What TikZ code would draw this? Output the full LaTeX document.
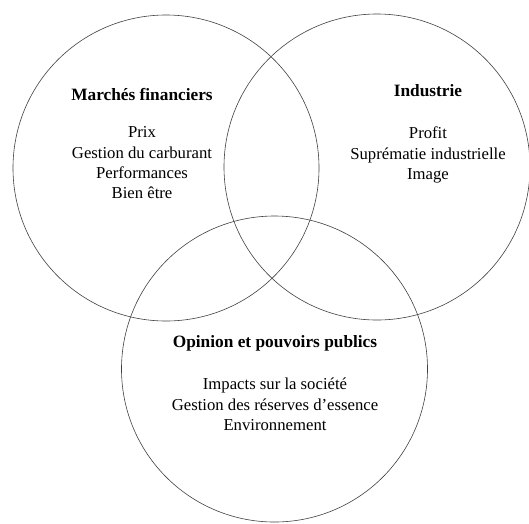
\documentclass[tikz,border=0pt]{standalone}
\usepackage{fontspec}
\setmainfont{Liberation Serif}
\tikzset{
  venn/.style={draw=black!75, line width=0.6pt, circle, minimum size=#1, inner sep=0pt},
  lbl/.style={align=center, font=\fontsize{16.7}{20.4}\selectfont, inner sep=0pt},
  head/.style={align=center, font=\fontsize{17.3}{20}\selectfont\bfseries, inner sep=0pt}
}
\begin{document}
\begin{tikzpicture}[x=1pt,y=-1pt]
\useasboundingbox (0,0) rectangle (529,523);
\node[venn=306pt] (cl) at (166,168) {};
\node[venn=306pt] (cr) at (377,167) {};
\node[venn=306pt] (cb) at (274.5,369) {};
\node[head] (hl) at (142,94) {Marchés financiers};
\node[lbl, anchor=north] (tl) at (142,126.5) {Prix\\Gestion du carburant\\Performances\\Bien être};
\node[head] (hr) at (428,91) {Industrie};
\node[lbl, anchor=north] (tr) at (428,127) {Profit\\Suprématie industrielle\\Image};
\node[head] (hb) at (275,343) {Opinion et pouvoirs publics};
\node[lbl, anchor=north] (tb) at (275,378) {Impacts sur la société\\Gestion des réserves d’essence\\Environnement};
\end{tikzpicture}
\end{document}
